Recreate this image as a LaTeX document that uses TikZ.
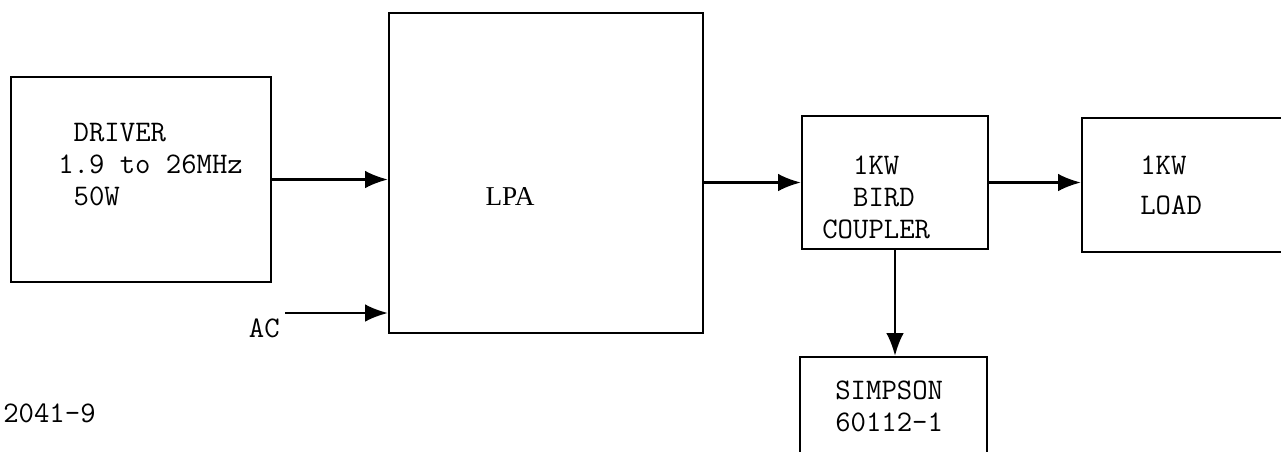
\documentclass[tikz,border=0pt]{standalone}
\usepackage{fontspec}
\newfontfamily\lpafont{Liberation Serif}
\usetikzlibrary{arrows.meta,calc}

\begin{document}
\begin{tikzpicture}[x=0.02cm,y=-0.02cm,>={Latex[length=13pt,width=10pt]},
  blk/.style={draw,line width=1.3pt,inner sep=0pt},
  txt/.style={font=\ttfamily\fontsize{17}{18.2}\selectfont,align=left,inner sep=0pt,anchor=west},
  sig/.style={->,line width=1.3pt}]
\useasboundingbox (0,0) rectangle (1281,451);
\clip (0,0) rectangle (1281,451);
% boxes
\node[blk,minimum width=5.2cm,minimum height=4.1cm] (drv) at (141,179.5) {};
\node[blk,minimum width=6.28cm,minimum height=6.4cm] (lpa) at (546,173) {};
\node[blk,minimum width=3.72cm,minimum height=2.66cm] (cpl) at (895,182.5) {};
\node[blk,minimum width=4.56cm,minimum height=2.68cm] (load) at (1196,185) {};
\node[blk,minimum width=3.74cm,minimum height=2.46cm] (smp) at (893.5,418.5) {};
% texts
\node[txt] (drvtxt) at (58,164) {\phantom{1}DRIVER\\1.9 to 26MHz\\\phantom{1}50W};
\node[font=\lpafont\fontsize{15.5}{18}\selectfont,inner sep=0pt] (lpatxt) at (510,197) {LPA};
\node[txt] (cpltxt) at (822,197) {\phantom{11}1KW\\\phantom{11}BIRD\\COUPLER};
\node[txt] (loadtxt) at (1140,185) {1KW\\[0.16cm]LOAD};
\node[txt] (smptxt) at (835,406) {SIMPSON\\60112-1};
\node[txt,anchor=north east] (actxt) at (280,318) {AC};
\node[txt] (fig) at (3,413) {2041-9};
\coordinate (ac) at (285,313);
% connections
\draw[sig] (drv.east) -- (drv.east -| lpa.west);
\draw[sig] (ac) -- (ac -| lpa.west);
\draw[sig] (cpl.west -| lpa.east) -- (cpl.west);
\draw[sig] (cpl.east) -- (cpl.east -| load.west);
\draw[sig] (cpl.south) -- (cpl.south |- smp.north);
\end{tikzpicture}
\end{document}
